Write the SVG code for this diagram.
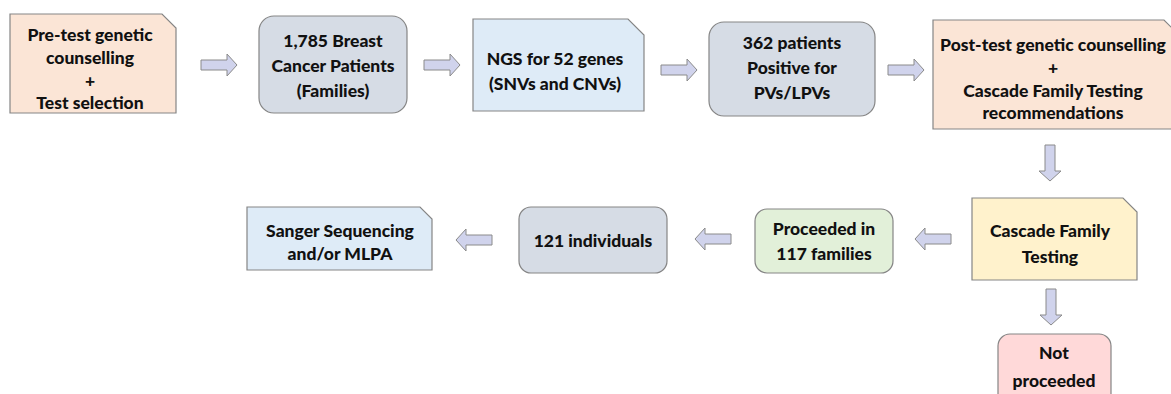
<svg xmlns="http://www.w3.org/2000/svg" xmlns:xlink="http://www.w3.org/1999/xlink" width="1171" height="394" viewBox="0 0 1171 394">
<style>
.box{stroke:#858585;stroke-width:1.2}
.peach{fill:#fbe5d6}
.grey{fill:#d6dce5}
.blue{fill:#deebf7}
.green{fill:#e2f0d9}
.yellow{fill:#fff2cc}
.pink{fill:#ffd9d9}
text{font-family:"Lato","Liberation Sans",sans-serif;font-weight:900;font-size:17.5px;fill:#111111;text-anchor:middle}
.arrow{fill:#d0d3ec;stroke:#8a8a8a;stroke-width:1}
</style>
<defs>
<path id="arr" d="M0,-5 H26 V-11 L36,0 L26,11 V5 H0 Z"/>
</defs>
<rect width="1171" height="394" fill="#ffffff"/>
<g id="connectors">
<use href="#arr" class="arrow" transform="translate(201,65)"/>
<use href="#arr" class="arrow" transform="translate(424,65)"/>
<use href="#arr" class="arrow" transform="translate(661,70)"/>
<use href="#arr" class="arrow" transform="translate(888,70)"/>
<use href="#arr" class="arrow" transform="translate(1050,145) rotate(90)"/>
<use href="#arr" class="arrow" transform="translate(951,239) rotate(180)"/>
<use href="#arr" class="arrow" transform="translate(731,239) rotate(180)"/>
<use href="#arr" class="arrow" transform="translate(492,240) rotate(180)"/>
<use href="#arr" class="arrow" transform="translate(1051,289) rotate(90)"/>
</g>
<g id="n1">
<path class="box peach" d="M10,14 H162 L176,28 V113 H10 Z"/>
<text x="90" y="41">Pre-test genetic</text>
<text x="90" y="64">counselling</text>
<text x="90" y="87">+</text>
<text x="90" y="109">Test selection</text>
</g>
<g id="n2">
<rect class="box grey" x="259" y="16" width="148" height="97" rx="15"/>
<text x="333" y="47">1,785 Breast</text>
<text x="333" y="72">Cancer Patients</text>
<text x="333" y="97">(Families)</text>
</g>
<g id="n3">
<path class="box blue" d="M473,19 H628 L644,35 V111 H473 Z"/>
<text x="555" y="65">NGS for 52 genes</text>
<text x="555" y="90">(SNVs and CNVs)</text>
</g>
<g id="n4">
<rect class="box grey" x="709" y="22" width="166" height="94" rx="15"/>
<text x="792" y="49">362 patients</text>
<text x="792" y="74">Positive for</text>
<text x="792" y="99">PVs/LPVs</text>
</g>
<g id="n5">
<path class="box peach" d="M933,20 H1164 L1178,34 V129 H933 Z"/>
<text x="1053" y="51">Post-test genetic counselling</text>
<text x="1053" y="74">+</text>
<text x="1053" y="97">Cascade Family Testing</text>
<text x="1053" y="119">recommendations</text>
</g>
<g id="n6">
<path class="box yellow" d="M972,198 H1123 L1137,212 V280 H972 Z"/>
<text x="1050" y="237">Cascade Family</text>
<text x="1050" y="263">Testing</text>
</g>
<g id="n7">
<rect class="box pink" x="998" y="334" width="113" height="72" rx="12"/>
<text x="1054" y="359">Not</text>
<text x="1054" y="387">proceeded</text>
</g>
<g id="n8">
<rect class="box green" x="755" y="209" width="138" height="64" rx="12"/>
<text x="824" y="235">Proceeded in</text>
<text x="824" y="260">117 families</text>
</g>
<g id="n9">
<rect class="box grey" x="519" y="207" width="148" height="66" rx="12"/>
<text x="593" y="247">121 individuals</text>
</g>
<g id="n10">
<path class="box blue" d="M247,207 H420 L432,219 V270 H247 Z"/>
<text x="340" y="237">Sanger Sequencing</text>
<text x="340" y="260">and/or MLPA</text>
</g>
</svg>
